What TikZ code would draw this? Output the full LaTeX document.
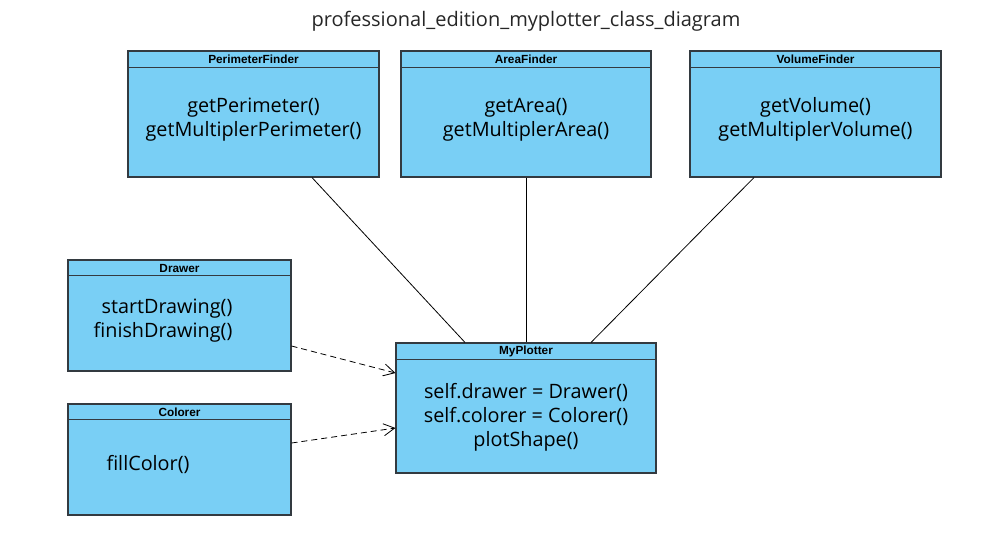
\documentclass[tikz,border=0pt]{standalone}
\usepackage{fontspec}
\setmainfont{Open Sans}
\newfontfamily\headfont{Liberation Sans}
\usetikzlibrary{calc,arrows.meta}
\definecolor{classblue}{HTML}{79CFF5}
\definecolor{classline}{HTML}{333A40}
\tikzset{
  classbox/.style={draw=classline, fill=classblue, line width=1.1pt, inner sep=0pt},
  headtext/.style={font=\headfont\bfseries\fontsize{11.8}{13}\selectfont, inner sep=0pt},
  bodytext/.style={align=center, font=\fontsize{19.8}{24}\selectfont, inner sep=0pt},
  link/.style={line width=0.8pt},
  uses/.style={line width=0.8pt, dash pattern=on 6pt off 4pt,
    -{Straight Barb[length=11pt,width=12pt,line width=0.8pt]}}
}
\begin{document}
\begin{tikzpicture}[x=1pt, y=-1pt]
  \useasboundingbox (0,0) rectangle (995,558);
  \node[font=\fontsize{20}{24}\selectfont, text=black!85] (title) at (526,21) {professional\_edition\_myplotter\_class\_diagram};
  % top row
  \node[classbox, minimum width=251pt, minimum height=126pt] (pf) at (253.5,114) {};
  \node[classbox, minimum width=250pt, minimum height=126pt] (af) at (526,114) {};
  \node[classbox, minimum width=251pt, minimum height=126pt] (vf) at (815.5,114) {};
  % left column
  \node[classbox, minimum width=223pt, minimum height=111pt] (dr) at (179.5,315.5) {};
  \node[classbox, minimum width=223pt, minimum height=111pt] (co) at (179.5,459.5) {};
  % main class
  \node[classbox, minimum width=260pt, minimum height=130pt] (mp) at (526,408) {};
  % header lines
  \foreach \c/\h in {pf/17, af/17, vf/17, dr/16, co/16, mp/17}
    \draw[classline, line width=1.1pt] ($(\c.north west)+(0,\h)$) -- ($(\c.north east)+(0,\h)$);
  % headers
  \node[headtext] at (253.5,59.5) {PerimeterFinder};
  \node[headtext] at (526,59.5) {AreaFinder};
  \node[headtext] at (815.5,59.5) {VolumeFinder};
  \node[headtext] at (179.5,268) {Drawer};
  \node[headtext] at (179.5,412) {Colorer};
  \node[headtext] at (526,351.5) {MyPlotter};
  % methods
  \node[bodytext] at (253.5,119.5) {getPerimeter()\\getMultiplerPerimeter()};
  \node[bodytext] at (526,119.5) {getArea()\\getMultiplerArea()};
  \node[bodytext] at (815.5,119.5) {getVolume()\\getMultiplerVolume()};
  \node[bodytext] at (163,320.5) {\hspace*{8pt}startDrawing()\\finishDrawing()};
  \node[bodytext] at (148,464) {fillColor()};
  \node[bodytext] at (526,417.5) {self.drawer = Drawer()\\self.colorer = Colorer()\\plotShape()};
  % connectors
  \draw[link] ($(pf.south)+(58.5,0)$) -- ($(mp.north)+(-61,0)$);
  \draw[link] (af.south) -- (mp.north);
  \draw[link] ($(vf.south)+(-61.5,0)$) -- ($(mp.north)+(65,0)$);
  \draw[uses] ($(dr.east)+(0,30.5)$) -- ($(mp.west)+(0,-35)$);
  \draw[uses] ($(co.east)+(0,-16.5)$) -- ($(mp.west)+(0,20)$);
\end{tikzpicture}
\end{document}
